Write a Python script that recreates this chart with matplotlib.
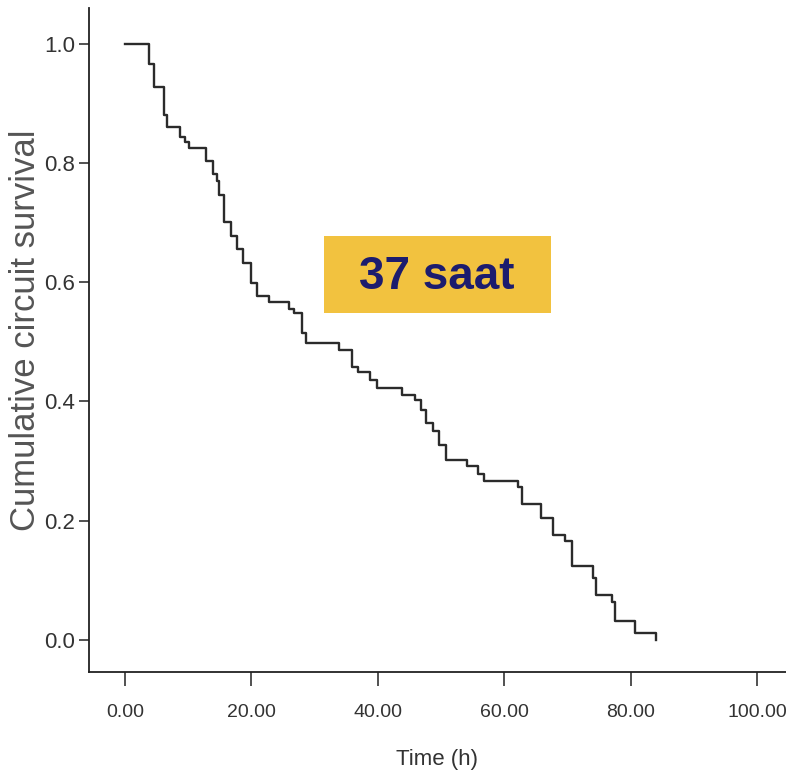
import matplotlib
matplotlib.use("Agg")
import matplotlib.pyplot as plt
from matplotlib.patches import Rectangle

plt.rcParams['font.family'] = ['Liberation Sans', 'DejaVu Sans']

# Kaplan-Meier style curve: drop times (h) and survival after each drop
zaman = [0.0, 3.85, 4.6, 6.2, 6.6, 8.7, 9.5, 10.1, 12.8, 13.9, 14.5, 14.9,
         15.6, 16.7, 17.7, 18.7, 19.9, 20.9, 22.8, 26.0, 26.8, 28.0, 28.7,
         33.8, 35.9, 36.9, 38.7, 39.8, 43.8, 45.9, 46.9, 47.6, 48.7, 49.7,
         50.8, 54.1, 55.9, 56.8, 62.2, 62.9, 65.8, 67.8, 69.6, 70.7, 74.0,
         74.6, 77.0, 77.5, 80.7, 84.0]
supravietuire = [1.0, 0.966, 0.927, 0.881, 0.861, 0.843, 0.835, 0.825, 0.803,
                 0.782, 0.769, 0.747, 0.701, 0.678, 0.656, 0.632, 0.598, 0.577,
                 0.566, 0.555, 0.549, 0.514, 0.498, 0.487, 0.458, 0.449, 0.436,
                 0.422, 0.411, 0.402, 0.385, 0.363, 0.351, 0.327, 0.302, 0.291,
                 0.279, 0.267, 0.256, 0.228, 0.204, 0.176, 0.166, 0.124, 0.103,
                 0.076, 0.064, 0.031, 0.012, 0.0]

xticks = [0, 20, 40, 60, 80, 100]
yticks = [0.0, 0.2, 0.4, 0.6, 0.8, 1.0]
eticheta = "37 saat"

fig = plt.figure(figsize=(7.86, 7.73), dpi=100)
ax = fig.add_axes([89 / 786, 101 / 773, 1 - 89 / 786, (672 - 8) / 773])

ax.step(zaman, supravietuire, where='post', color='#2b2b2b', linewidth=1.7)

ax.set_xlim(-5.7, 104.6)
ax.set_ylim(-0.054, 1.060)
ax.set_xticks(xticks)
ax.set_xticklabels([f'{v:.2f}' for v in xticks])
ax.set_yticks(yticks)
ax.set_yticklabels([f'{v:.1f}' for v in yticks])

for s in ['top', 'right']:
    ax.spines[s].set_visible(False)
for s in ['left', 'bottom']:
    ax.spines[s].set_linewidth(1.3)
    ax.spines[s].set_color('#222222')

ax.tick_params(axis='x', direction='out', length=10, width=1.1, colors='#222222',
               labelsize=14, pad=13, labelcolor='#333333')
ax.tick_params(axis='y', direction='out', length=7, width=1.1, colors='#222222',
               labelsize=16, pad=3, labelcolor='#333333')

ax.set_xlabel('Time (h)', fontsize=16, color='#333333', labelpad=20)
ax.set_ylabel('Cumulative circuit survival', fontsize=25, color='#555555')
ax.yaxis.set_label_coords(-0.068, 0.515)

# caseta galbena
fig.patches.append(Rectangle((324 / 786, (773 - 313) / 773), 227 / 786, 77 / 773,
                             transform=fig.transFigure, facecolor='#F2C23F',
                             edgecolor='none', zorder=5))
fig.text(437 / 786, (773 - 277) / 773, eticheta, fontsize=33, fontweight='bold',
         color='#1C1C6E', ha='center', va='center', zorder=6)

fig.savefig('out.png', dpi=100)
